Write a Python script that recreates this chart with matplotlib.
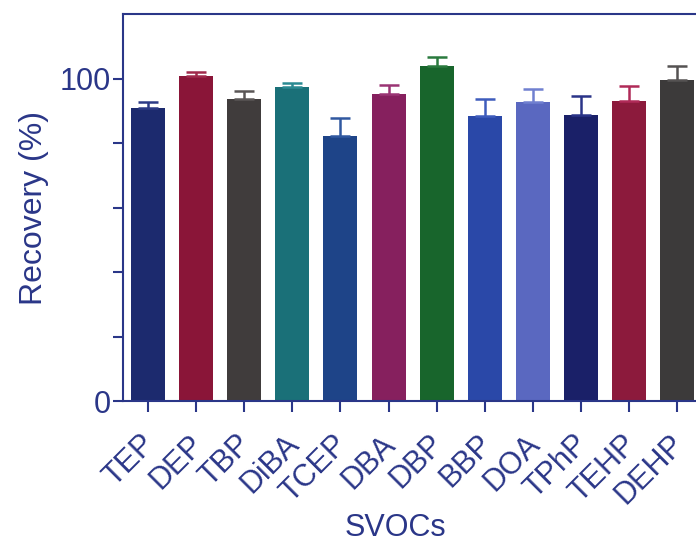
import numpy as np
import matplotlib.pyplot as plt
from matplotlib.transforms import ScaledTranslation

plt.rcParams['font.family'] = ['Liberation Sans', 'DejaVu Sans']

# 回收率数据
compounds = ['TEP', 'DEP', 'TBP', 'DiBA', 'TCEP', 'DBA',
             'DBP', 'BBP', 'DOA', 'TPhP', 'TEHP', 'DEHP']
recovery = [90.9, 100.8, 93.8, 97.3, 82.2, 95.1,
            103.9, 88.4, 92.7, 88.6, 93.0, 99.5]
recovery_sd = [1.7, 1.3, 2.4, 1.4, 5.4, 3.0,
               2.9, 5.1, 3.9, 6.0, 4.6, 4.5]

bar_colors = ['#1c2a6e', '#8a1538', '#403c3c', '#1a7078', '#1e4488', '#86205e',
              '#18652c', '#2a48a8', '#5a68c0', '#1a2068', '#8c1a3c', '#3c3a3a']
err_colors = ['#2c3a86', '#a02a4c', '#5a5656', '#2a8a92', '#3058a0', '#9a3474',
              '#2a7a3e', '#3e5cbc', '#7080d0', '#2a3488', '#b02a58', '#555252']

axis_color = '#2a3688'


def main():
    fig = plt.figure(figsize=(6.96, 5.45), dpi=100)
    ax = fig.add_axes([0.1767, 0.2642, 0.8233, 0.7101])

    x = np.arange(len(compounds))
    ax.bar(x, recovery, width=0.705, color=bar_colors, zorder=2)
    for i in range(len(compounds)):
        ax.errorbar(x[i], recovery[i], yerr=[[0], [recovery_sd[i]]],
                    fmt='none', ecolor=err_colors[i], elinewidth=1.8,
                    capsize=7, capthick=1.8, zorder=3)

    ax.set_xlim(-0.52, 11.39)
    ax.set_ylim(0, 120)
    ax.set_yticks([0, 100])
    ax.set_yticks([20, 40, 60, 80], minor=True)
    ax.set_xticks(x)
    ax.set_xticklabels([])

    # 45度斜放的横轴标签，右上角对准刻度
    offset = ScaledTranslation(-0.08, -0.28, fig.dpi_scale_trans)
    trans = ax.get_xaxis_transform() + offset
    for xi, name in zip(x, compounds):
        ax.text(xi, 0, name, transform=trans, rotation=45, ha='right', va='top',
                rotation_mode='anchor', fontsize=22, color=axis_color)

    for side in ['left', 'bottom', 'top']:
        ax.spines[side].set_color(axis_color)
        ax.spines[side].set_linewidth(1.5)
    ax.spines['right'].set_visible(False)

    ax.tick_params(axis='y', which='both', length=7.5, width=1.5,
                   color=axis_color, labelcolor=axis_color, labelsize=22, pad=1)
    ax.tick_params(axis='x', length=8, width=1.5, color=axis_color)

    ax.set_ylabel('Recovery (%)', fontsize=23, color=axis_color, labelpad=8)
    ax.set_xlabel('SVOCs', fontsize=22, color=axis_color)
    ax.xaxis.set_label_coords(0.475, -0.29)

    fig.savefig('out.png', dpi=100)


if __name__ == '__main__':
    main()
